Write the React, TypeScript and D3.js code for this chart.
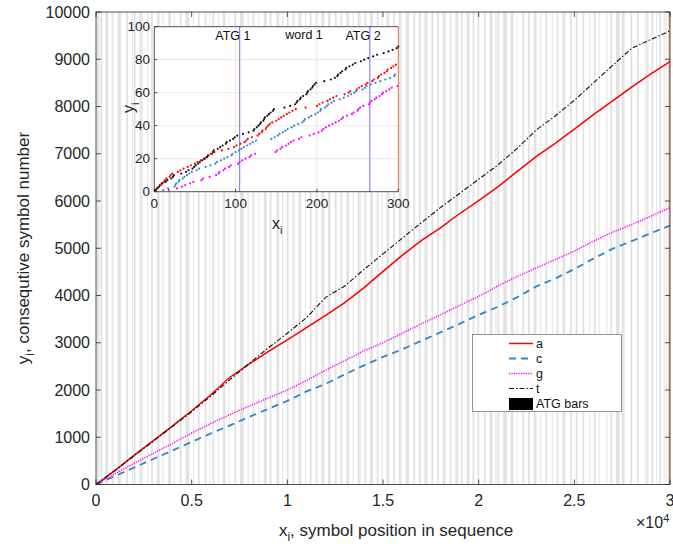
import React from "react";
import * as d3 from "d3";

const W = 673;
const H = 547;
const font = "'Liberation Sans', Arial, sans-serif";

// cumulative counts sampled every 1000 symbols
const positions = d3.range(0, 30001, 1000);
const countA = [0, 300, 620, 930, 1240, 1560, 1900, 2270, 2550, 2810, 3060, 3320, 3580, 3850, 4160, 4510, 4850, 5160, 5430, 5730, 6010, 6300, 6620, 6940, 7220, 7520, 7830, 8120, 8410, 8690, 8950];
const countC = [0, 180, 360, 540, 720, 900, 1080, 1250, 1430, 1600, 1770, 1970, 2130, 2330, 2520, 2700, 2860, 3040, 3220, 3400, 3590, 3760, 3960, 4190, 4360, 4560, 4780, 4990, 5150, 5320, 5480];
const countG = [0, 230, 450, 660, 870, 1090, 1290, 1480, 1660, 1830, 2000, 2200, 2420, 2620, 2830, 3000, 3200, 3400, 3590, 3790, 3980, 4200, 4400, 4580, 4760, 4940, 5150, 5340, 5500, 5680, 5860];
const countT = [0, 300, 610, 920, 1230, 1540, 1870, 2220, 2560, 2890, 3200, 3530, 3960, 4200, 4550, 4880, 5210, 5540, 5860, 6160, 6460, 6760, 7110, 7500, 7800, 8130, 8500, 8870, 9230, 9420, 9600];

// ATG start positions (bars)
const atgPositions = [
  40, 105, 150, 265, 300, 520, 560, 600, 840, 900, 1150, 1190, 1240, 1300, 1600, 1650, 1900, 2000, 2040, 2300, 2350, 2420, 2700, 2900, 2950,
  3200, 3260, 3300, 3500, 3800, 3850, 3880, 4100, 4400, 4450, 4700, 4760, 4800, 4850, 5100, 5350, 5400, 5700, 5760, 5950,
  6100, 6150, 6400, 6650, 6700, 6740, 6950, 7250, 7300, 7550, 7600, 7650, 7700, 7950, 8200, 8250, 8500, 8800, 8850, 8900,
  9100, 9150, 9450, 9500, 9550, 9750, 10000, 10040, 10300, 10350, 10600, 10650, 10700, 10950, 11200, 11250, 11500, 11560, 11800, 11850, 11900,
  12150, 12200, 12230, 12500, 12550, 12800, 12850, 13100, 13150, 13200, 13450, 13700, 13750, 13800, 14050, 14100, 14350, 14400, 14450, 14700, 14750, 14950,
  15200, 15250, 15300, 15550, 15600, 15850, 15900, 15950, 16200, 16250, 16300, 16350, 16600, 16650, 16900, 16950, 17200, 17250, 17300, 17550, 17600, 17850, 17900,
  18150, 18200, 18250, 18500, 18550, 18800, 18850, 18900, 19100, 19150, 19400, 19450, 19500, 19700, 19750, 19950, 20000, 20300, 20350, 20600, 20650, 20700, 20900,
  21000, 21050, 21300, 21350, 21400, 21450, 21700, 21750, 21800, 22000, 22300, 22350, 22600, 22650, 22900, 22950, 23000, 23250, 23500, 23550, 23850,
  24100, 24150, 24400, 24450, 24500, 24800, 24850, 25100, 25150, 25450, 25500, 25800, 26050, 26100, 26300, 26700, 26900, 26950,
  27200, 27250, 27300, 27350, 27500, 27550, 27600, 27950, 28000, 28300, 28350, 28700, 28800, 28850, 29050, 29100, 29300, 29450, 29500, 29700, 29800,
];

// first 300 symbols of the sequence (inset)
const firstSymbols =
  "atatattaatcaatatcgaatattc" + "ccgaccatgcacgtcatcgactgta" + "tcatctagtgatcattagctattac" +
  "gctggtcatgcgttcagtgcctatc" + "atgcgacgtcagacatgcgacttgc" + "tatattaatttaatatatcattcga" +
  "gcacgagcatcgacgatgcagctat" + "tcgttgctccatttcgtcttgtcta" + "cgaccgagtcgcacgatcgactgat" +
  "tgctgtgcattgcatacgtgctcag" + "gagtacgtcacatggcgatagcgta" + "agcaggtacgaatgcagtaccatgt";
const insetMarks = [
  { label: "ATG 1", x: 105 },
  { label: "ATG 2", x: 265 },
];
const insetWord = { label: "word 1", x: 161 };

const xTicks = [0, 5000, 10000, 15000, 20000, 25000, 30000];
const xTickLabels = ["0", "0.5", "1", "1.5", "2", "2.5", "3"];
const yTicks = d3.range(0, 10001, 1000);

const series = [
  { key: "a", values: countA, color: "#ff0000", dash: "none", width: 1.5 },
  { key: "c", values: countC, color: "#2f86c9", dash: "7,5", width: 1.8 },
  { key: "g", values: countG, color: "#ff00ff", dash: "1.2,1.2", width: 1.5 },
  { key: "t", values: countT, color: "#111111", dash: "5,2,1.5,2", width: 1.1 },
];

const main = { left: 96, right: 670, top: 12, bottom: 484.5 };
const ins = { left: 154.3, right: 398.3, top: 26.7, bottom: 191.7 };

export default function App() {
  const x = d3.scaleLinear().domain([0, 30000]).range([main.left, main.right]);
  const y = d3.scaleLinear().domain([0, 10000]).range([main.bottom, main.top]);
  const ix = d3.scaleLinear().domain([0, 300]).range([ins.left, ins.right]);
  const iy = d3.scaleLinear().domain([0, 100]).range([ins.bottom, ins.top]);

  const line = d3
    .line<number>()
    .x((_, i) => x(positions[i]))
    .y((d) => y(d));

  // cumulative count points for the inset
  const counts: Record<string, number> = { a: 0, c: 0, g: 0, t: 0 };
  const dots = firstSymbols.split("").map((s, i) => {
    counts[s] += 1;
    return { s, pos: i + 1, n: counts[s] };
  });
  const colorOf: Record<string, string> = Object.fromEntries(series.map((s) => [s.key, s.color]));

  const axisColor = "#262626";

  return (
    <svg width={W} height={H} style={{ position: "absolute", left: 0, top: 0, background: "#fff" }} fontFamily={font}>
      <rect x={0} y={0} width={W} height={H} fill="#fff" />
      {/* ATG bars */}
      <g>
        {atgPositions.map((p, i) => (
          <rect key={i} x={x(p) - 0.6} y={main.top} width={1.2} height={main.bottom - main.top} fill="#000" opacity={0.09} />
        ))}
        <rect x={main.right - 1.5} y={main.top} width={1.5} height={main.bottom - main.top} fill="#f3a287" />
      </g>

      {/* series */}
      {series.map((s) => (
        <path key={s.key} d={line(s.values) || ""} fill="none" stroke={s.color} strokeWidth={s.width} strokeDasharray={s.dash} />
      ))}

      {/* main axes box */}
      <rect x={main.left} y={main.top} width={main.right - main.left} height={main.bottom - main.top} fill="none" stroke={axisColor} strokeWidth={0.8} />
      {xTicks.map((t, i) => (
        <g key={t}>
          <line x1={x(t)} x2={x(t)} y1={main.bottom} y2={main.bottom - 5} stroke={axisColor} strokeWidth={0.8} />
          <line x1={x(t)} x2={x(t)} y1={main.top} y2={main.top + 5} stroke={axisColor} strokeWidth={0.8} />
          <text x={x(t)} y={506} fontSize={16} textAnchor="middle" fill={axisColor}>
            {xTickLabels[i]}
          </text>
        </g>
      ))}
      {yTicks.map((t) => (
        <g key={t}>
          <line x1={main.left} x2={main.left + 5} y1={y(t)} y2={y(t)} stroke={axisColor} strokeWidth={0.8} />
          <line x1={main.right} x2={main.right - 5} y1={y(t)} y2={y(t)} stroke={axisColor} strokeWidth={0.8} />
          <text x={90} y={y(t) + 5.5} fontSize={16} textAnchor="end" fill={axisColor}>
            {t}
          </text>
        </g>
      ))}
      <text x={636} y={528} fontSize={16} fill={axisColor}>
        ×10<tspan dy={-6} fontSize={11}>4</tspan>
      </text>
      <text x={396} y={536} fontSize={17} textAnchor="middle" fill={axisColor}>
        x<tspan dy={5} fontSize={12}>i</tspan>
        <tspan dy={-5}>, symbol position in sequence</tspan>
      </text>
      <text transform={`translate(29,248) rotate(-90)`} fontSize={17} textAnchor="middle" fill={axisColor}>
        y<tspan dy={5} fontSize={12}>i</tspan>
        <tspan dy={-5}>, consequtive symbol number</tspan>
      </text>

      {/* inset */}
      <rect x={ins.left} y={ins.top} width={ins.right - ins.left} height={ins.bottom - ins.top} fill="#fff" />
      {[100, 200].map((t) => (
        <line key={t} x1={ix(t)} x2={ix(t)} y1={ins.top} y2={ins.bottom} stroke="#e3e3e3" strokeWidth={0.8} />
      ))}
      {[20, 40, 60, 80].map((t) => (
        <line key={t} x1={ins.left} x2={ins.right} y1={iy(t)} y2={iy(t)} stroke="#e3e3e3" strokeWidth={0.8} />
      ))}
      {insetMarks.map((m) => (
        <line key={m.label} x1={ix(m.x)} x2={ix(m.x)} y1={ins.top} y2={ins.bottom} stroke="#6a6aff" strokeWidth={1} />
      ))}
      <line x1={ins.right} x2={ins.right} y1={ins.top} y2={ins.bottom} stroke="#e8703a" strokeWidth={1} />
      {dots.map((d, i) => (
        <circle key={i} cx={ix(d.pos)} cy={iy(d.n)} r={1.1} fill={colorOf[d.s]} />
      ))}
      <path
        d={`M${ins.right},${ins.top}H${ins.left}V${ins.bottom}H${ins.right}`}
        fill="none"
        stroke={axisColor}
        strokeWidth={0.8}
      />
      {[0, 100, 200, 300].map((t) => (
        <g key={t}>
          <line x1={ix(t)} x2={ix(t)} y1={ins.bottom} y2={ins.bottom - 3} stroke={axisColor} strokeWidth={0.8} />
          <text x={ix(t)} y={208} fontSize={13.5} textAnchor="middle" fill={axisColor}>
            {t}
          </text>
        </g>
      ))}
      {[0, 20, 40, 60, 80, 100].map((t) => (
        <g key={t}>
          <line x1={ins.left} x2={ins.left + 3} y1={iy(t)} y2={iy(t)} stroke={axisColor} strokeWidth={0.8} />
          <text x={150} y={iy(t) + 4.5} fontSize={13.5} textAnchor="end" fill={axisColor}>
            {t}
          </text>
        </g>
      ))}
      {insetMarks.map((m) => (
        <text key={m.label} x={ix(m.x - 30)} y={40} fontSize={12.5} fill="#111">
          {m.label}
        </text>
      ))}
      <text x={ix(insetWord.x)} y={39} fontSize={12.5} fill="#111">
        {insetWord.label}
      </text>
      <text x={272} y={229} fontSize={16} fill={axisColor}>
        x<tspan dy={5} fontSize={11}>i</tspan>
      </text>
      <text transform={`translate(134,113) rotate(-90)`} fontSize={16} fill={axisColor}>
        y<tspan dy={5} fontSize={11}>i</tspan>
      </text>

      {/* legend */}
      <g>
        <rect x={472.5} y={334.5} width={149} height={77} fill="#fff" stroke="#7a7a7a" strokeWidth={0.8} />
        {series.map((s, i) => {
          const ly = 343.5 + i * 15;
          return (
            <g key={s.key}>
              <line x1={509} x2={533} y1={ly} y2={ly} stroke={s.color} strokeWidth={s.width} strokeDasharray={s.dash} />
              <text x={536} y={ly + 4} fontSize={12.5} fill="#111">
                {s.key}
              </text>
            </g>
          );
        })}
        <rect x={509} y={398} width={24} height={12} fill="#000" />
        <text x={536} y={408} fontSize={12.5} fill="#111">
          ATG bars
        </text>
      </g>
    </svg>
  );
}
